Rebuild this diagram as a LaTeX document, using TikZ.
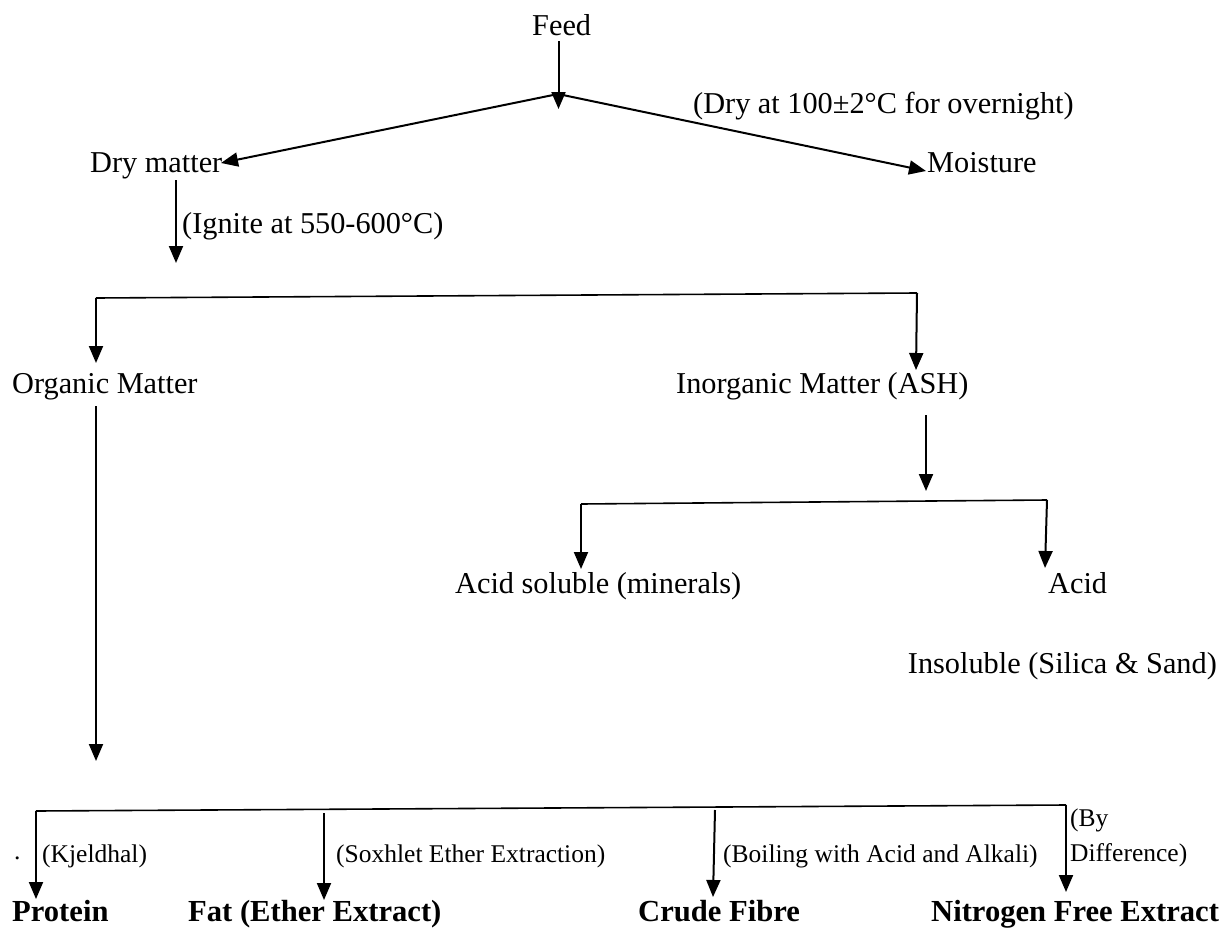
\documentclass[tikz,border=0pt]{standalone}
\usepackage{fontspec}
\setmainfont{Liberation Serif}
\usetikzlibrary{arrows.meta}
\begin{document}
\begin{tikzpicture}[x=1pt,y=-1pt,
  txt/.style={inner sep=0pt, anchor=base west, font=\fontsize{30.3}{32}\selectfont},
  btxt/.style={txt, font=\fontsize{30.6}{32}\selectfont\bfseries},
  stxt/.style={txt, font=\fontsize{25.5}{28}\selectfont},
  arr/.style={line width=2pt, -{Triangle[length=17pt,width=14pt]}},
  bar/.style={line width=1.6pt}]
\useasboundingbox (0,0) rectangle (1232,929);
% texts
\node[txt] (feed) at (532,35) {Feed};
\node[txt] (dry) at (90,172) {Dry matter};
\node[txt] (moist) at (927,172) {Moisture};
\node[txt] (drylab) at (693,113) {(Dry at 100±2°C for overnight)};
\node[txt] (ign) at (182,233) {(Ignite at 550-600°C)};
\node[txt] (org) at (12,393) {Organic Matter};
\node[txt] (inorg) at (676,393) {Inorganic Matter (ASH)};
\node[txt] (acids) at (455,593) {Acid soluble (minerals)};
\node[txt] (acid) at (1048,593) {Acid};
\node[txt, anchor=base east] (insol) at (1217,673) {Insoluble (Silica \& Sand)};
\node[stxt] (dot) at (14,859) {.};
\node[stxt] (kj) at (42,862) {(Kjeldhal)};
\node[stxt] (sox) at (336,862) {(Soxhlet Ether Extraction)};
\node[stxt] (boil) at (723,862) {(Boiling with Acid and Alkali)};
\node[stxt] (by) at (1070,826) {(By};
\node[stxt] (diff) at (1070,861) {Difference)};
\node[btxt] (prot) at (12,921) {Protein};
\node[btxt] (fat) at (188,921) {Fat (Ether Extract)};
\node[btxt] (cf) at (638,921) {Crude Fibre};
\node[btxt] (nfe) at (931,921) {Nitrogen Free Extract};
% coordinates
\coordinate (f0) at (558.5,41);
\coordinate (f1) at (558.5,109);
\coordinate (apex) at (558,94);
\coordinate (dtip) at (221,163);
\coordinate (mtip) at (926,171);
\coordinate (i0) at (176,180);
\coordinate (i1) at (176,263);
\coordinate (b1l) at (96,298);
\coordinate (b1r) at (917,293);
\coordinate (otip) at (96,363);
\coordinate (itip) at (916,370);
\coordinate (o0) at (96,406);
\coordinate (o1) at (96,761);
\coordinate (a0) at (926,415);
\coordinate (a1) at (926,491);
\coordinate (b2l) at (581,504);
\coordinate (b2r) at (1047,500);
\coordinate (astip) at (581,569);
\coordinate (aitip) at (1045,568);
\coordinate (b3l) at (36,811);
\coordinate (b3r) at (1066,805);
\coordinate (ptip) at (36,899);
\coordinate (ft0) at (324,813);
\coordinate (ftip) at (324,900);
\coordinate (c0) at (715,810);
\coordinate (ctip) at (713,897);
\coordinate (ntip) at (1066,892);
% connectors
\draw[arr] (f0) -- (f1);
\draw[arr] (apex) -- (dtip);
\draw[arr] (apex) -- (mtip);
\draw[arr] (i0) -- (i1);
\draw[bar] (b1l) -- (b1r);
\draw[arr] (b1l) -- (otip);
\draw[arr] (b1r) -- (itip);
\draw[arr] (o0) -- (o1);
\draw[arr] (a0) -- (a1);
\draw[bar] (b2l) -- (b2r);
\draw[arr] (b2l) -- (astip);
\draw[arr] (b2r) -- (aitip);
\draw[bar] (b3l) -- (b3r);
\draw[arr] (b3l) -- (ptip);
\draw[arr] (ft0) -- (ftip);
\draw[arr] (c0) -- (ctip);
\draw[arr] (b3r) -- (ntip);
\end{tikzpicture}
\end{document}
